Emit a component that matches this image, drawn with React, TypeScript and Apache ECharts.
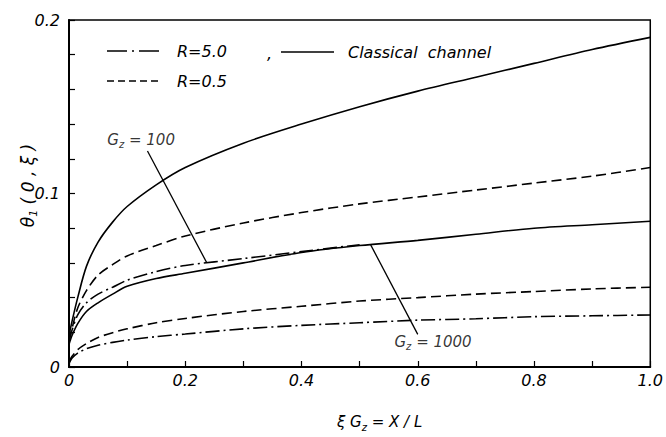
import React, { useEffect, useRef } from "react";
import * as echarts from "echarts";

// x positions (ξGz) at which curves were read
const XI = [0, 0.005, 0.015, 0.03, 0.05, 0.075, 0.1, 0.15, 0.2, 0.3, 0.4, 0.5, 0.6, 0.7, 0.8, 0.9, 1.0];
// Gz = 100
const classicalGz100 = [0.018, 0.026, 0.040, 0.058, 0.072, 0.0835, 0.0925, 0.105, 0.115, 0.129, 0.140, 0.150, 0.159, 0.167, 0.175, 0.183, 0.190];
const r05Gz100 = [0.015, 0.022, 0.034, 0.044, 0.053, 0.059, 0.064, 0.070, 0.0755, 0.083, 0.089, 0.094, 0.098, 0.102, 0.106, 0.110, 0.115];
const XI_R50_GZ100 = [0, 0.005, 0.015, 0.03, 0.05, 0.075, 0.1, 0.15, 0.2, 0.3, 0.4, 0.5];
const r50Gz100 = [0.015, 0.021, 0.030, 0.037, 0.042, 0.046, 0.050, 0.055, 0.0585, 0.0625, 0.0665, 0.0705];
// Gz = 1000
const classicalGz1000 = [0.013, 0.018, 0.025, 0.032, 0.037, 0.042, 0.0465, 0.051, 0.054, 0.060, 0.066, 0.070, 0.073, 0.0765, 0.080, 0.082, 0.084];
const r05Gz1000 = [0.003, 0.006, 0.010, 0.0135, 0.017, 0.0198, 0.022, 0.0255, 0.028, 0.032, 0.035, 0.038, 0.040, 0.042, 0.0435, 0.045, 0.046];
const r50Gz1000 = [0.002, 0.005, 0.008, 0.0105, 0.0125, 0.0142, 0.0155, 0.0175, 0.019, 0.022, 0.024, 0.0255, 0.027, 0.0278, 0.029, 0.0295, 0.030];

// annotation pointers [x, y]
const pointerGz100 = [[0.135, 0.1245], [0.237, 0.0601]];
const pointerGz1000 = [[0.519, 0.0704], [0.600, 0.0188]];
const labelGz100 = [0.066, 0.131];
const labelGz1000 = [0.56, 0.0146];

const FONT = "DejaVu Sans";
const DASH = [10, 5];
const DASHDOT = [14, 4, 2, 4];

const zip = (xs: number[], ys: number[]) => xs.map((x, i) => [x, ys[i]]);

const curve = (name: string, xs: number[], ys: number[], type: any) => ({
  name,
  type: "line",
  data: zip(xs, ys),
  smooth: 0.3,
  showSymbol: false,
  symbol: "none",
  lineStyle: { color: "#000", width: 1.6, type },
  silent: true,
  z: 3,
});

const richFor = (size: number) => ({
  g: { fontFamily: FONT, fontStyle: "italic", fontSize: size, color: "#000", lineHeight: size + 5 },
  s: { fontFamily: FONT, fontStyle: "italic", fontSize: Math.round(size * 0.65), color: "#000", lineHeight: Math.round(size * 0.65), verticalAlign: "bottom" },
});

export default function App() {
  const ref = useRef<HTMLDivElement>(null);
  useEffect(() => {
    const chart = echarts.init(ref.current!, null, { renderer: "svg" });
    const option: any = {
      animation: false,
      backgroundColor: "#fff",
      grid: { left: 69, right: 9, top: 20, bottom: 62, show: true, borderColor: "#000", borderWidth: 1.5, backgroundColor: "transparent" },
      xAxis: {
        type: "value",
        min: 0,
        max: 1,
        interval: 0.1,
        axisLine: { lineStyle: { color: "#000", width: 2 } },
        axisTick: { inside: true, length: 6, lineStyle: { color: "#000", width: 1.2 } },
        splitLine: { show: false },
        axisLabel: {
          margin: 5,
          color: "#000",
          fontFamily: FONT,
          fontStyle: "italic",
          fontSize: 16,
          formatter: (v: number) => {
            const k = Math.round(v * 10);
            if (k % 2) return "";
            if (k === 0) return "0";
            if (k === 10) return "1.0";
            return (k / 10).toFixed(1);
          },
        },
        name: "{g|ξ G}{s|z}{g| = X / L}",
        nameLocation: "middle",
        nameGap: 45,
        nameTextStyle: { rich: richFor(15), padding: [0, 0, 0, 40] },
      },
      yAxis: {
        type: "value",
        min: 0,
        max: 0.2,
        interval: 0.02,
        axisLine: { lineStyle: { color: "#000", width: 2 } },
        axisTick: { inside: true, length: 6, lineStyle: { color: "#000", width: 1.2 } },
        splitLine: { show: false },
        axisLabel: {
          margin: 9,
          color: "#000",
          fontFamily: FONT,
          fontStyle: "italic",
          fontSize: 16,
          formatter: (v: number) => {
            const k = Math.round(v * 100);
            if (k === 0) return "0";
            if (k === 10) return "0.1";
            if (k === 20) return "0.2";
            return "";
          },
        },
        name: "{g|θ}{s|1}{g| ( 0 , ξ )}",
        nameLocation: "middle",
        nameRotate: 90,
        nameGap: 30,
        nameMoveOverlap: false,
        nameTextStyle: { rich: richFor(17), padding: [0, 0, 0, 16] },
      },
      series: [
        curve("Classical channel, Gz=100", XI, classicalGz100, "solid"),
        curve("R=0.5, Gz=100", XI, r05Gz100, DASH),
        curve("R=5.0, Gz=100", XI_R50_GZ100, r50Gz100, DASHDOT),
        curve("Classical channel, Gz=1000", XI, classicalGz1000, "solid"),
        curve("R=0.5, Gz=1000", XI, r05Gz1000, DASH),
        curve("R=5.0, Gz=1000", XI, r50Gz1000, DASHDOT),
        {
          type: "line",
          data: pointerGz100,
          showSymbol: false,
          symbol: "none",
          lineStyle: { color: "#000", width: 1.3 },
          silent: true,
        },
        {
          type: "line",
          data: pointerGz1000,
          showSymbol: false,
          symbol: "none",
          lineStyle: { color: "#000", width: 1.3 },
          silent: true,
        },
        {
          type: "scatter",
          symbolSize: 0,
          silent: true,
          data: [
            { value: labelGz100, label: { formatter: "{g|G}{s|z}{g| = 100}" } },
            { value: labelGz1000, label: { formatter: "{g|G}{s|z}{g| = 1000}" } },
          ],
          label: { show: true, position: "right", distance: 0, rich: richFor(15) },
        },
      ],
      graphic: [
        { type: "line", shape: { x1: 107, y1: 51, x2: 160, y2: 51 }, style: { stroke: "#000", lineWidth: 1.5, lineDash: [20, 5, 2, 5] } },
        { type: "text", x: 177, y: 51, style: { text: "R=5.0", font: `italic 16px "${FONT}"`, fill: "#000", verticalAlign: "middle" } },
        { type: "line", shape: { x1: 107, y1: 81, x2: 160, y2: 81 }, style: { stroke: "#000", lineWidth: 1.5, lineDash: [7, 4] } },
        { type: "text", x: 177, y: 81, style: { text: "R=0.5", font: `italic 16px "${FONT}"`, fill: "#000", verticalAlign: "middle" } },
        { type: "text", x: 267, y: 53, style: { text: ",", font: `italic 16px "${FONT}"`, fill: "#000", verticalAlign: "middle" } },
        { type: "line", shape: { x1: 281, y1: 52, x2: 334, y2: 52 }, style: { stroke: "#000", lineWidth: 1.5 } },
        { type: "text", x: 348, y: 52, style: { text: "Classical  channel", font: `italic 16px "${FONT}"`, fill: "#000", verticalAlign: "middle" } },
      ],
    };
    chart.setOption(option);
    return () => chart.dispose();
  }, []);
  return <div ref={ref} style={{ position: "fixed", left: 0, top: 0, width: 666, height: 437 }} />;
}
